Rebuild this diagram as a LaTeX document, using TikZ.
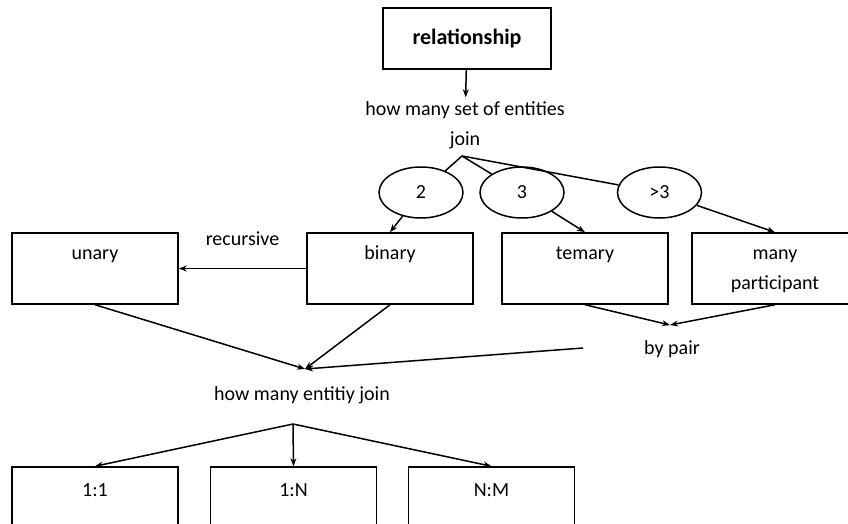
\documentclass[tikz,border=0pt]{standalone}
\usepackage{fontspec}
\setmainfont{Carlito}
\usetikzlibrary{positioning}
\usetikzlibrary{calc}
\usetikzlibrary{shapes.geometric,arrows.meta}

\begin{document}
\begin{tikzpicture}[x = 1pt, y = -1pt, font = \fontsize{20}{30}\selectfont,
  line width = 1.5pt, > = {Stealth[length = 8pt, width = 6pt]},
  box/.style = {draw, minimum width = 166pt, minimum height = 71pt, inner sep = 0pt},
  boxtext/.style = {anchor = north, align = center, text height = 14pt, label distance = -9pt},
  choice/.style = {draw, ellipse, minimum width = 84pt, minimum height = 51pt, inner sep = 0pt}]
\useasboundingbox (0,0) rectangle (848,524);
\clip (0,0) rectangle (848,524);

\node[draw, minimum width = 168pt, minimum height = 61pt,
      font = \fontsize{22}{26}\selectfont\bfseries] (rel) at (467,38.5) {relationship};
\node[align = center] (q1) at (465,125) {how many set of entities\\join};

\node[choice] (e2) at (421,192.5) {2};
\node[choice] (e3) at (522,192.5) {3};
\node[choice] (e4) at (659.5,192.5) {>3};

\node[box, label = {[boxtext]north:unary}]  (unary)   at (95,268.5)  {};
\node[box, label = {[boxtext]north:binary}] (binary)  at (390,268.5) {};
\node[box, label = {[boxtext]north:temary}] (ternary) at (585,268.5) {};
\node[box, label = {[boxtext, text height = 44pt]north:many\\participant}] (many) at (775,268.5) {};

\node[anchor = base] (bypair) at (672,354) {by pair};
\node[anchor = base] (q2)     at (302,400) {how many entitiy join};

\node[box, label = {[boxtext, label distance = -12pt]north:{1:1}}] (n11) at (95,502.5)    {};
\node[box, label = {[boxtext, label distance = -12pt]north:{1:N}}] (n1n) at (293.5,502.5) {};
\node[box, label = {[boxtext, label distance = -12pt]north:{N:M}}] (nnm) at (491.5,502.5) {};

\coordinate (split1)  at (462,156);
\coordinate (merge)   at (305,369);
\coordinate (pairtop) at (670,325);
\coordinate (pairout) at (583,348);
\coordinate (split2)  at (293,424);

\path[->] (rel) edge (q1);

\path[-] (split1) edge (e2)
                  edge (e3)
                  edge (e4);

\path[->] (e2) edge (binary.north)
          (e3) edge (ternary.north)
          (e4) edge (many.north);

\path[->] (binary) edge node[above = 19pt] (rec) {recursive} (unary);

\path[->] (unary.south)   edge (merge)
          (binary.south)  edge (merge)
          (pairout)       edge (merge)
          (ternary.south) edge (pairtop)
          (many.south)    edge (pairtop);

\path[->] (split2) edge (n11.north)
                   edge (n1n.north)
                   edge (nnm.north);
\end{tikzpicture}
\end{document}
